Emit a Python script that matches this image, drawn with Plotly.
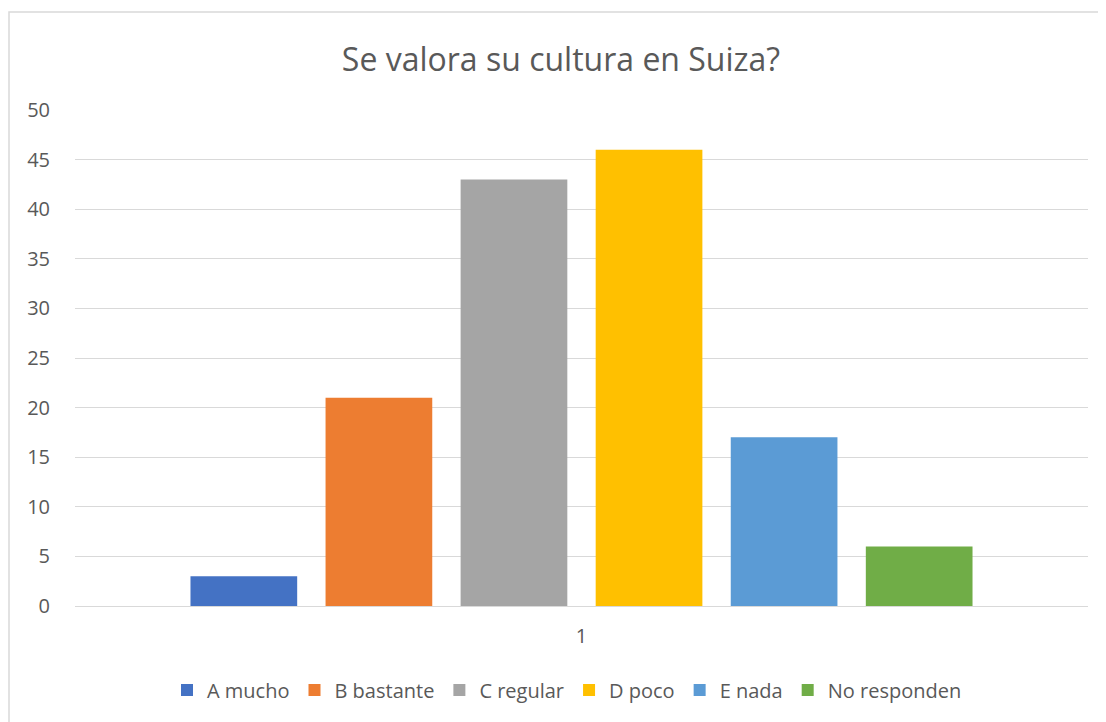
import plotly.graph_objects as go

categories = ["1"]
series_names = ["A mucho", "B bastante", "C regular", "D poco", "E nada", "No responden"]
series_values = [3, 21, 43, 46, 17, 6]
colors = ["#4472C4", "#ED7D31", "#A5A5A5", "#FFC000", "#5B9BD5", "#70AD47"]
y_ticks = [0, 5, 10, 15, 20, 25, 30, 35, 40, 45, 50]

FONT = "'Open Sans', 'Noto Sans', sans-serif"
TXT = "#595959"

fig = go.Figure()
for name, val, col in zip(series_names, series_values, colors):
    fig.add_trace(go.Bar(x=categories, y=[val], name=name, marker=dict(color=col, line=dict(width=0))))

# page has an 8px body margin; figure sized to fit the 1106x722 window
OFF = 8
W, H = 1106 - OFF, 722 - OFF
L, R, T, B = 75 - OFF, 18, 110 - OFF, (722 - OFF) - (606 - OFF)
pw, ph = W - L - R, H - T - B

fig.update_layout(
    width=W, height=H,
    margin=dict(l=L, r=R, t=T, b=B),
    paper_bgcolor="white", plot_bgcolor="white",
    barmode="group", bargap=0.2, bargroupgap=0.21,
    font=dict(family=FONT, color=TXT, size=20),
    title=dict(text="Se valora su cultura en Suiza?", xref="container", x=(561 - OFF) / W, xanchor="center",
               y=1 - (60 - OFF) / H, yanchor="middle", font=dict(size=32, color=TXT, family=FONT)),
    xaxis=dict(type="category", showgrid=False, showline=False, zeroline=False,
               ticks="", tickfont=dict(size=20, color=TXT), ticklabelstandoff=16),
    yaxis=dict(range=[0, 50], tickvals=y_ticks, showgrid=True, gridcolor="#D9D9D9", gridwidth=1.3,
               zeroline=True, zerolinecolor="#D9D9D9", zerolinewidth=1.3, showline=False,
               ticks="", tickfont=dict(size=20, color=TXT), ticklabelstandoff=24),
    legend=dict(orientation="h", x=(567 - 75) / pw, xanchor="center", y=-(690 - 606) / ph, yanchor="middle",
                font=dict(size=20, color=TXT), itemwidth=30, traceorder="normal"),
    showlegend=True,
)

# chart-area border: only left and top edges are visible in the reference
bx0 = (9 - 75) / pw
bx1 = (1106 - 75) / pw
by0 = -(722 - 606) / ph
by1 = 1 + (110 - 12) / ph
fig.add_shape(type="path", xref="paper", yref="paper",
              path=f"M {bx0} {by0} L {bx0} {by1} L {bx1} {by1}",
              line=dict(color="#D9D9D9", width=1.5), layer="below")

fig.write_html("out.html")
